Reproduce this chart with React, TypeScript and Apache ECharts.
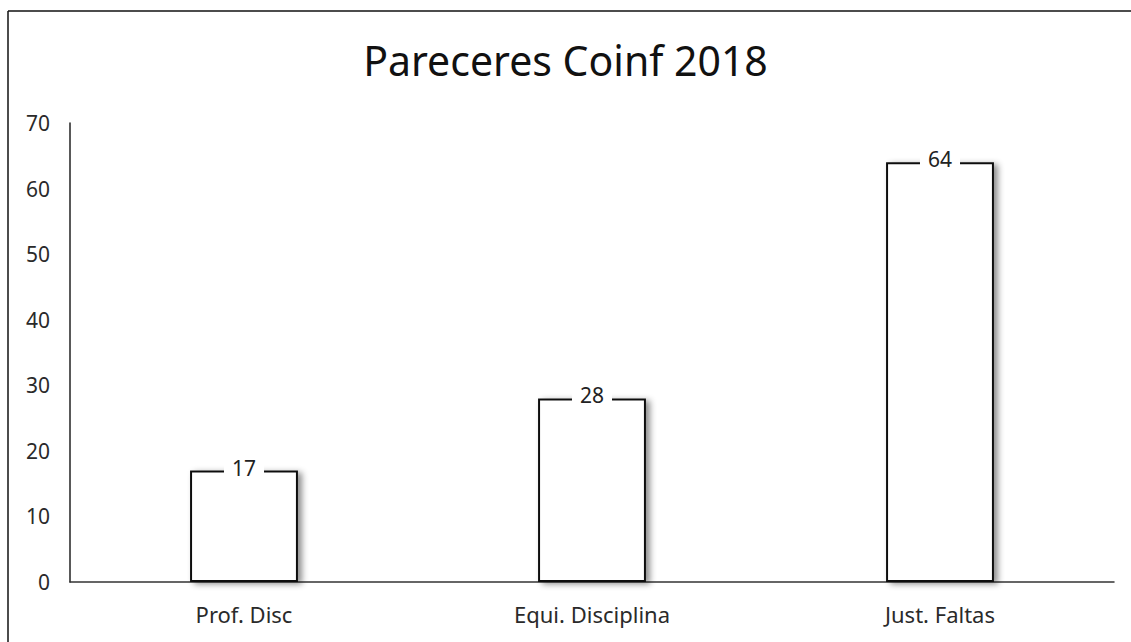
import React, { useEffect, useRef } from "react";
import * as echarts from "echarts";

const categories = ["Prof. Disc", "Equi. Disciplina", "Just. Faltas"];
const values = [17, 28, 64];
const titleText = "Pareceres Coinf 2018";

const FONT = "Noto Sans";

export default function App() {
  const ref = useRef<HTMLDivElement>(null);
  useEffect(() => {
    const prevMargin = document.body.style.margin;
    document.body.style.margin = "0";
    document.body.style.overflow = "hidden";
    const chart = echarts.init(ref.current!, null, { renderer: "svg" });
    chart.setOption({
      animation: false,
      backgroundColor: "#fff",
      title: {
        text: titleText,
        left: "center",
        top: 34,
        textStyle: { fontFamily: FONT, fontSize: 41, fontWeight: "normal", color: "#111" },
      },
      graphic: [
        {
          type: "line",
          shape: { x1: 8, y1: 11, x2: 1131, y2: 11 },
          style: { stroke: "#111", lineWidth: 1.5 },
          silent: true,
        },
        {
          type: "line",
          shape: { x1: 8, y1: 11, x2: 8, y2: 642 },
          style: { stroke: "#111", lineWidth: 1.5 },
          silent: true,
        },
      ],
      grid: { left: 70, right: 17, top: 123, bottom: 60 },
      xAxis: {
        type: "category",
        data: categories,
        axisLine: { lineStyle: { color: "#333", width: 1.5 } },
        axisTick: { show: false },
        axisLabel: { color: "#2a2a2a", fontSize: 22, fontFamily: FONT, margin: 21 },
      },
      yAxis: {
        type: "value",
        min: 0,
        max: 70,
        interval: 10,
        axisLine: { show: true, lineStyle: { color: "#222", width: 1.5 } },
        axisTick: { show: false },
        splitLine: { show: false },
        axisLabel: { color: "#2a2a2a", fontSize: 21, fontFamily: FONT, margin: 20 },
      },
      series: [
        {
          type: "bar",
          data: values,
          barWidth: "31%",
          itemStyle: {
            color: "#fff",
            borderColor: "#111",
            borderWidth: 2,
            shadowBlur: 6,
            shadowColor: "rgba(0,0,0,0.45)",
            shadowOffsetX: 4,
            shadowOffsetY: 2,
          },
          label: {
            show: true,
            position: ["50%", -3],
            align: "center",
            verticalAlign: "middle",
            fontSize: 21,
            fontFamily: FONT,
            color: "#222",
            backgroundColor: "#fff",
            padding: [0, 8],
          },
        },
      ],
    });
    return () => {
      chart.dispose();
      document.body.style.margin = prevMargin;
    };
  }, []);
  return (
    <div
      ref={ref}
      style={{ position: "fixed", left: 0, top: 0, width: 1131, height: 642 }}
    />
  );
}
